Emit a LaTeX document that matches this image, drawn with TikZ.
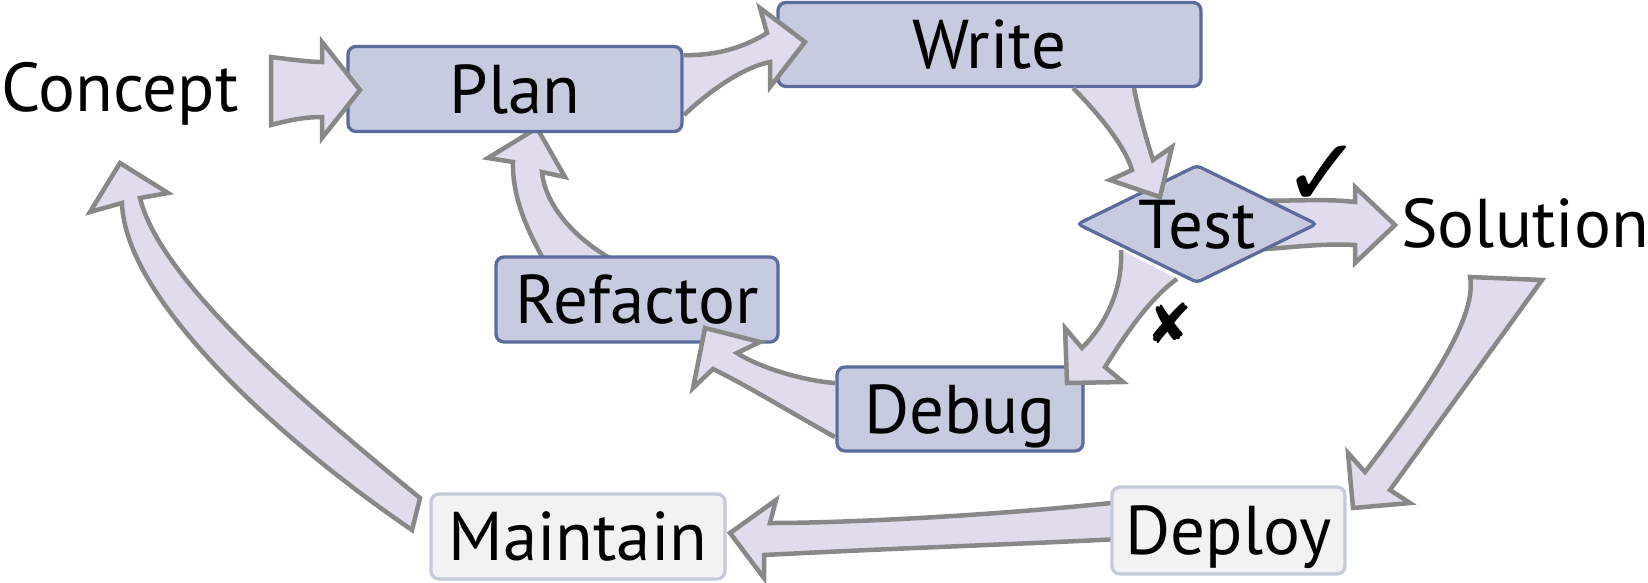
\documentclass[tikz,border=0pt]{standalone}
\usepackage{fontspec}
\setmainfont{PT Sans}
\newfontfamily\symfont{DejaVu Sans}
\usetikzlibrary{shapes.geometric}
\definecolor{boxfill}{HTML}{C6CBE0}
\definecolor{boxline}{HTML}{5B6B9B}
\definecolor{lightfill}{HTML}{F2F2F2}
\definecolor{lightline}{HTML}{C4CAD9}
\definecolor{arrowfillc}{HTML}{E1DBEE}
\definecolor{arrowlinec}{HTML}{888888}
\newcommand\fatopen[1]{\fill[afill] #1 -- cycle; \draw[aline] #1;}
\tikzset{
  bigfont/.style={font=\fontsize{69pt}{69pt}\selectfont},
  box/.style={draw=boxline, fill=boxfill, line width=3.3pt, rounded corners=8pt,
    minimum height=85pt, inner sep=0pt, bigfont, text height=48pt, text depth=0pt},
  lightbox/.style={box, draw=lightline, fill=lightfill},
  plain/.style={inner sep=0pt, bigfont, text height=48pt, text depth=0pt},
  testshape/.style={diamond, aspect=2, draw=boxline, fill=boxfill, line width=3.3pt,
    rounded corners=4pt, minimum width=240pt, minimum height=118pt, inner sep=0pt,
    bigfont, text height=48pt, text depth=0pt},
  afill/.style={fill=arrowfillc},
  aline/.style={draw=arrowlinec, line width=4.5pt, line join=miter},
  fatarrow/.style={fill=arrowfillc, draw=arrowlinec, line width=4.5pt, line join=miter},
  marksym/.style={inner sep=0pt, font=\symfont\fontsize{#1}{#1}\selectfont}
}
\begin{document}
\begin{tikzpicture}[x=1pt,y=-1pt]
\useasboundingbox (0,0) rectangle (1648,582);

% arrows whose start lies under a node
\draw[fatarrow] (1250,200) .. controls (1290,202) and (1320,198) .. (1355,202)
  -- (1355,187) -- (1395,225) -- (1355,263) -- (1355,245)
  .. controls (1320,243) and (1290,248) .. (1250,250) -- cycle;
\draw[fatarrow] (545,262) .. controls (530,235) and (512,200) .. (513,162)
  -- (488,158) -- (537,128) -- (565,177) -- (542,172)
  .. controls (545,205) and (575,240) .. (617,262) -- cycle;
\draw[fatarrow] (1120,502) .. controls (1000,515) and (850,523) .. (770,523)
  -- (776,500) -- (730,533) -- (764,578) -- (764,555)
  .. controls (900,548) and (1000,545) .. (1120,539) -- cycle;

% nodes
\node[plain] (concept) at (120,87) {Concept};
\node[box, minimum width=334pt] (plan) at (515,89) {Plan};
\node[box, minimum width=423pt, minimum height=84pt] (write) at (989.5,44.5) {Write};
\node[testshape] (test) at (1197,224) {Test};
\node[plain] (solution) at (1525,223) {Solution};
\node[box, minimum width=282pt] (refactor) at (637,299.5) {Refactor};
\node[box, minimum width=246pt, minimum height=84pt] (debug) at (960,409) {Debug};
\node[lightbox, minimum width=233pt, minimum height=87pt] (deploy) at (1228.5,530.5) {Deploy};
\node[lightbox, minimum width=294pt] (maintain) at (578,536.5) {Maintain};

% arrows whose head lies over a node
\draw[fatarrow] (271,57) .. controls (295,60) and (310,62) .. (322,62)
  -- (322,42) -- (360,90) -- (322,138) -- (322,117)
  .. controls (305,117) and (290,120) .. (271,125) -- cycle;
\fatopen{(684,55) .. controls (720,56) and (748,45) .. (767,33)
  -- (760,8) -- (805,42) -- (770,87) -- (770,62)
  .. controls (740,68) and (705,95) .. (684,115)}
\fatopen{(1073,88) .. controls (1095,110) and (1125,145) .. (1132,170)
  -- (1110,180) -- (1160,197) -- (1172,147) -- (1153,160)
  .. controls (1145,135) and (1137,105) .. (1134,88)}
\fatopen{(1121,250) .. controls (1123,290) and (1105,325) .. (1082,348)
  -- (1065,328) -- (1067,383) -- (1123,382) -- (1105,367)
  .. controls (1125,335) and (1150,298) .. (1177,279)}
\fatopen{(835,383) .. controls (805,381) and (760,368) .. (737,353)
  -- (760,342) -- (705,328) -- (693,388) -- (713,369)
  .. controls (750,387) and (800,418) .. (835,437)}
\draw[fatarrow] (1470,277) -- (1542,280) -- (1390,490) -- (1410,503) -- (1353,508)
  -- (1348,453) -- (1365,472) .. controls (1420,400) and (1478,320) .. (1470,277) -- cycle;
\draw[fatarrow] (420,498) .. controls (300,400) and (160,280) .. (140,198)
  -- (168,193) -- (120,163) -- (90,212) -- (122,203)
  .. controls (125,300) and (280,440) .. (412,530) -- cycle;

% pass / fail marks
\node[marksym=96pt] (tick) at (1323,176) {✓};
\node[marksym=55pt] (cross) at (1170,323) {✘};
\end{tikzpicture}
\end{document}
